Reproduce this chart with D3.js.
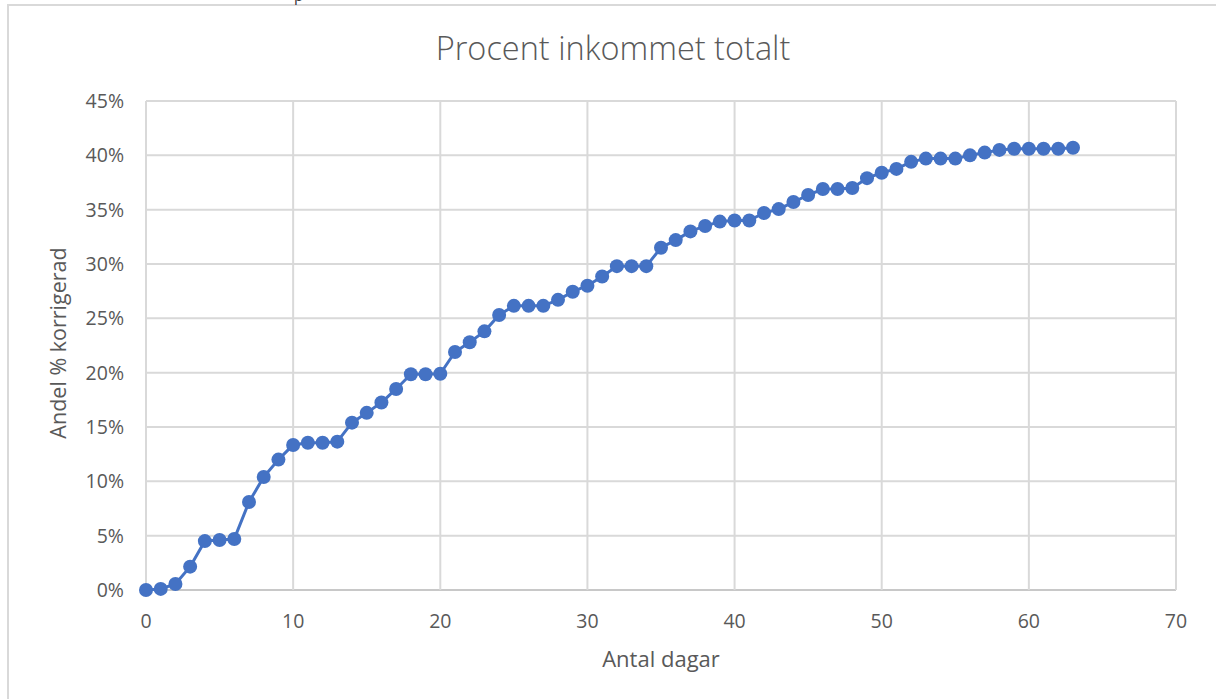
<!DOCTYPE html>
<html>
<head>
<meta charset="utf-8">
<script src="https://cdn.jsdelivr.net/npm/d3@7"></script>
<style>
  html, body { margin: 0; padding: 0; background: #fff; }
  svg { display: block; font-family: 'Open Sans', 'Noto Sans', sans-serif; }
</style>
</head>
<body>
<div id="chart"></div>
<script>
// values (share, in %)
var days = d3.range(0, 64);
var andel = [
  0, 0.1, 0.55, 2.15, 4.5, 4.6, 4.7, 8.1, 10.4, 12.0,
  13.35, 13.55, 13.55, 13.65, 15.4, 16.3, 17.25, 18.5, 19.85, 19.85,
  19.9, 21.9, 22.8, 23.8, 25.3, 26.15, 26.15, 26.15, 26.7, 27.45,
  28.0, 28.85, 29.8, 29.8, 29.8, 31.5, 32.2, 33.0, 33.5, 33.9,
  34.0, 34.0, 34.7, 35.05, 35.7, 36.35, 36.9, 36.9, 37.0, 37.9,
  38.4, 38.75, 39.4, 39.7, 39.7, 39.7, 40.0, 40.25, 40.5, 40.6,
  40.6, 40.6, 40.6, 40.7
];
var xTicks = [0, 10, 20, 30, 40, 50, 60, 70];
var yTicks = [0, 5, 10, 15, 20, 25, 30, 35, 40, 45];

var title = 'Procent inkommet totalt';
var xTitle = 'Antal dagar';
var yTitle = 'Andel % korrigerad';

var width = 1216, height = 699;
var margin = {left: 146, right: 40, top: 101, bottom: 109};

var svg = d3.select('#chart').append('svg')
            .attr('width', width).attr('height', height);

// chart frame (cropped on the right and bottom)
svg.append('path')
   .attr('d', 'M8,' + height + ' V5 H' + width)
   .attr('fill', 'none')
   .attr('stroke', '#d9d9d9')
   .attr('stroke-width', 2);

// cut-off text from above the chart
svg.append('text')
   .attr('x', 294).attr('y', 1)
   .text('p')
   .attr('font-size', '15px')
   .attr('fill', '#333');

var x = d3.scaleLinear().domain([0, 70])
          .range([margin.left, width - margin.right]);
var y = d3.scaleLinear().domain([0, 45])
          .range([height - margin.bottom, margin.top]);

// grid
svg.append('g').selectAll('line.h').data(yTicks).enter().append('line')
   .attr('x1', x(0)).attr('x2', x(70))
   .attr('y1', function(d){ return y(d); })
   .attr('y2', function(d){ return y(d); })
   .attr('stroke', function(d){ return d === 0 ? '#c8c8c8' : '#d9d9d9'; })
   .attr('stroke-width', 2);

svg.append('g').selectAll('line.v').data(xTicks).enter().append('line')
   .attr('y1', y(0)).attr('y2', y(45))
   .attr('x1', function(d){ return x(d); })
   .attr('x2', function(d){ return x(d); })
   .attr('stroke', '#d9d9d9')
   .attr('stroke-width', 2);

// tick labels
svg.append('g').selectAll('text').data(yTicks).enter().append('text')
   .attr('x', x(0) - 22)
   .attr('y', function(d){ return y(d) + 7; })
   .attr('text-anchor', 'end')
   .attr('font-size', '19.5px')
   .attr('fill', '#595959')
   .text(function(d){ return d + '%'; });

svg.append('g').selectAll('text').data(xTicks).enter().append('text')
   .attr('x', function(d){ return x(d); })
   .attr('y', y(0) + 38)
   .attr('text-anchor', 'middle')
   .attr('font-size', '19.5px')
   .attr('fill', '#595959')
   .text(function(d){ return d; });

// titles
svg.append('text')
   .attr('x', 613).attr('y', 60)
   .attr('text-anchor', 'middle')
   .attr('font-size', '32.5px')
   .attr('font-weight', 300)
   .attr('fill', '#595959')
   .text(title);

svg.append('text')
   .attr('x', (x(0) + x(70)) / 2).attr('y', 667)
   .attr('text-anchor', 'middle')
   .attr('font-size', '22px')
   .attr('fill', '#595959')
   .text(xTitle);

svg.append('text')
   .attr('transform', 'translate(66,' + 343 + ') rotate(-90)')
   .attr('text-anchor', 'middle')
   .attr('font-size', '21.5px')
   .attr('fill', '#595959')
   .text(yTitle);

// series
var pts = days.map(function(d, i){ return {day: d, v: andel[i]}; });

var line = d3.line()
             .x(function(d){ return x(d.day); })
             .y(function(d){ return y(d.v); });

svg.append('path')
   .datum(pts)
   .attr('d', line)
   .attr('fill', 'none')
   .attr('stroke', '#4472c4')
   .attr('stroke-width', 3)
   .attr('stroke-linejoin', 'round');

svg.append('g').selectAll('circle').data(pts).enter().append('circle')
   .attr('cx', function(d){ return x(d.day); })
   .attr('cy', function(d){ return y(d.v); })
   .attr('r', 7)
   .attr('fill', '#4472c4');
</script>
</body>
</html>
